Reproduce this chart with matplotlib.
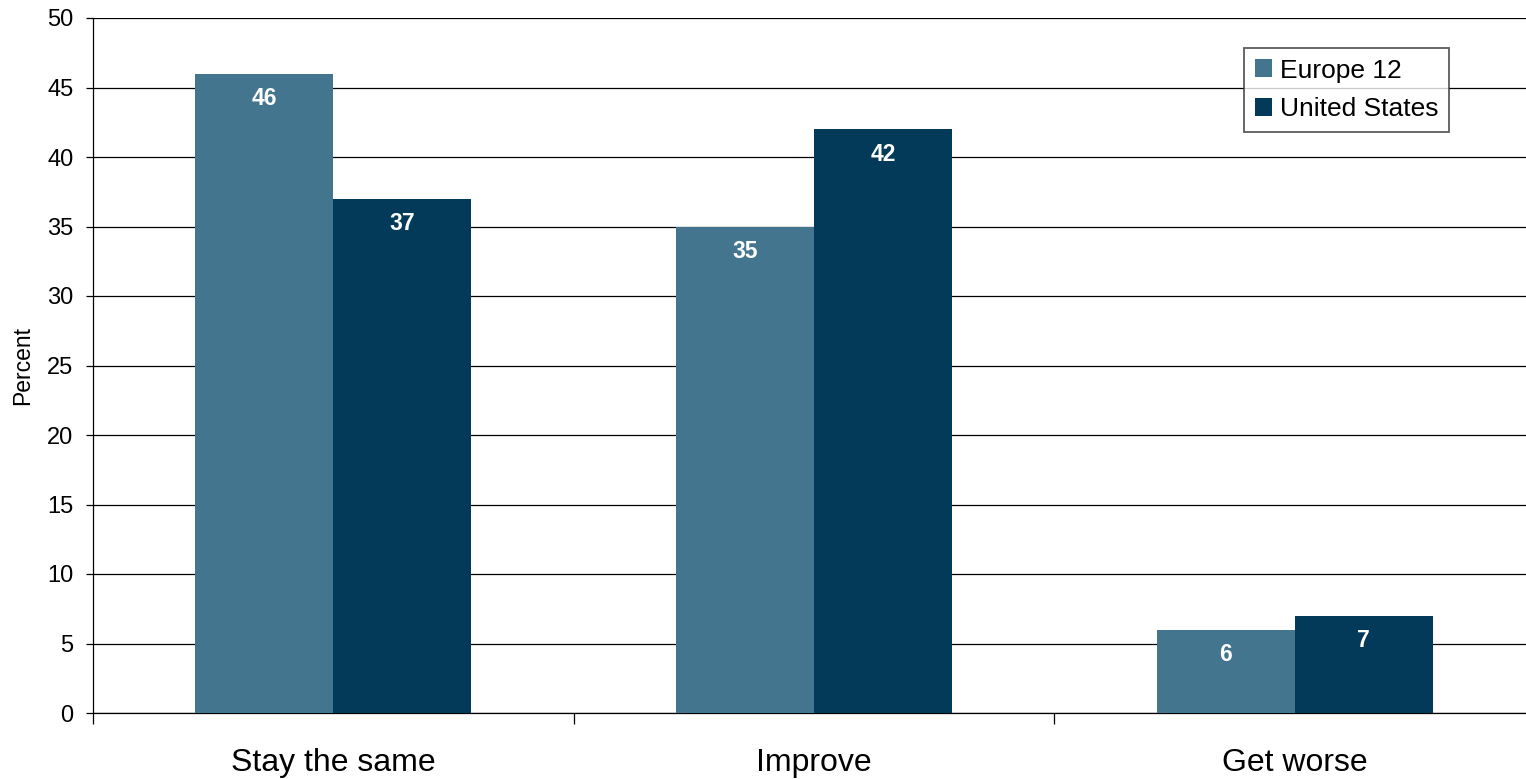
import numpy as np
import matplotlib.pyplot as plt

plt.rcParams['font.family'] = ['Liberation Sans', 'DejaVu Sans']

# chart data
categories = ['Stay the same', 'Improve', 'Get worse']
series_names = ['Europe 12', 'United States']
europe_vals = [46, 35, 6]
us_vals = [37, 42, 7]
colors = ['#44758F', '#033A5A']

fig = plt.figure(figsize=(15.26, 7.79), dpi=100)
# axes runs slightly past the right edge like the original
ax = fig.add_axes([93 / 1526, 1 - 713 / 779, 1442 / 1526, 695 / 779])

x = np.arange(len(categories)) + 0.5
bar_w = 0.287

bars_eu = ax.bar(x - bar_w / 2, europe_vals, bar_w, color=colors[0], label=series_names[0], zorder=3)
bars_us = ax.bar(x + bar_w / 2, us_vals, bar_w, color=colors[1], label=series_names[1], zorder=3)

# value labels inside the top of each bar
for bars in (bars_eu, bars_us):
    for b in bars:
        ax.annotate(f'{b.get_height():.0f}', (b.get_x() + b.get_width() / 2, b.get_height()),
                    xytext=(0, -18), textcoords='offset points', ha='center', va='center',
                    color='white', fontsize=16.5, fontweight='bold', zorder=4)

ax.set_xlim(0, 3)
ax.set_ylim(0, 50)
ax.set_yticks(range(0, 51, 5))
ax.yaxis.grid(True, color='black', linewidth=0.9, zorder=0)
ax.tick_params(axis='y', labelsize=17, length=5, width=0.9, direction='out', pad=9)

# category separators as ticks, labels in between
ax.set_xticks([0, 1, 2, 3])
ax.set_xticklabels([])
ax.set_xticks(x, minor=True)
ax.set_xticklabels(categories, minor=True, fontsize=23)
ax.tick_params(axis='x', which='major', length=8, width=0.9, direction='out')
ax.tick_params(axis='x', which='minor', length=0, pad=25)

for side in ('top', 'right'):
    ax.spines[side].set_visible(False)
ax.spines['left'].set_linewidth(0.9)
ax.spines['bottom'].set_linewidth(0.9)

ax.set_ylabel('Percent', fontsize=16.5)
ax.yaxis.set_label_coords(-0.041, 0.5)

leg = fig.legend(loc='upper left', bbox_to_anchor=(1244 / 1526, 1 - 48 / 779), fontsize=19,
                 frameon=True, fancybox=False, edgecolor='#333333', handlelength=0.65,
                 handleheight=0.65, handletextpad=0.3, borderpad=0.4, labelspacing=0.55,
                 borderaxespad=0)
leg.get_frame().set_linewidth(1.3)

fig.savefig('out.png', dpi=100)
